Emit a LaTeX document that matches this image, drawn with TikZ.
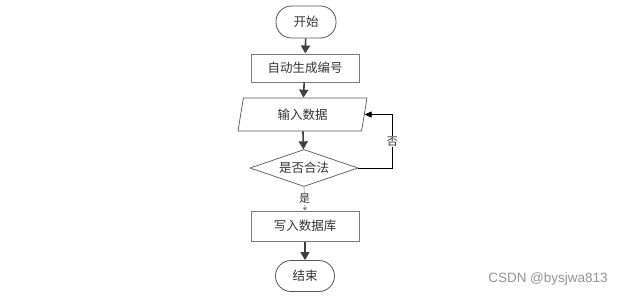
\documentclass[tikz,border=0pt]{standalone}
\usepackage{fontspec}
\newfontfamily\cjk{Noto Sans CJK SC}
\setsansfont{Liberation Sans}
\usetikzlibrary{shapes.geometric,arrows.meta}
\definecolor{arr}{HTML}{404040}
\definecolor{bord}{HTML}{555555}
\definecolor{boxbord}{HTML}{7A7A7A}
\definecolor{txt}{HTML}{333333}
\begin{document}
\begin{tikzpicture}[x=1pt,y=-1pt,
  base/.style={font=\cjk\fontsize{12.5}{14}\selectfont, text=txt, inner sep=0pt},
  term/.style={base, draw=bord, line width=0.8pt, rounded corners=15.5pt, minimum width=60pt, minimum height=32pt},
  procbox/.style={base, draw=boxbord, line width=1pt, minimum width=108pt, minimum height=28pt},
  iobox/.style={base, draw=bord, line width=0.7pt, trapezium, trapezium left angle=65, trapezium right angle=115, trapezium stretches body, minimum width=129pt, minimum height=33pt},
  decbox/.style={base, draw=bord, line width=0.7pt, diamond, aspect=2.9, minimum width=108pt, minimum height=37pt},
  flow/.style={draw=arr, line width=1.6pt, -{Triangle[width=9pt,length=8pt]}},
  thinflow/.style={draw=gray, line width=0.6pt, -{Triangle[width=4pt,length=3pt]}},
  loopflow/.style={draw=black, line width=0.8pt, -{Triangle[width=6pt,length=7pt]}},
  lab/.style={font=\cjk\fontsize{11}{13}\selectfont, text=txt, fill=white, inner sep=1pt}
]
\useasboundingbox (0,0) rectangle (627,297);
\node[term] (start) at (306,22) {开始};
\node[procbox] (gen) at (305,68) {自动生成编号};
\node[iobox] (input) at (302.5,114.5) {输入数据};
\node[decbox] (dec) at (304,168) {是否合法};
\node[procbox, minimum height=30pt] (write) at (305,226) {写入数据库};
\node[term, minimum width=59pt, minimum height=31pt] (end) at (305,276) {结束};

\draw[flow] (start) -- (gen);
\draw[flow] (gen) -- (input);
\draw[flow] (input) -- (dec);
\draw[thinflow] (dec.south) -- (write.north) node[lab, pos=0.5] {是};
\draw[flow] (write) -- (end);
\draw[loopflow] (dec.east) -- ++(34,0) coordinate (turn) |- (input.east) node[lab, pos=0.25] {否};

\node[font=\sffamily\fontsize{13.5}{15}\selectfont, text=gray!85] (wm) at (548,279) {CSDN @bysjwa813};
\end{tikzpicture}
\end{document}
